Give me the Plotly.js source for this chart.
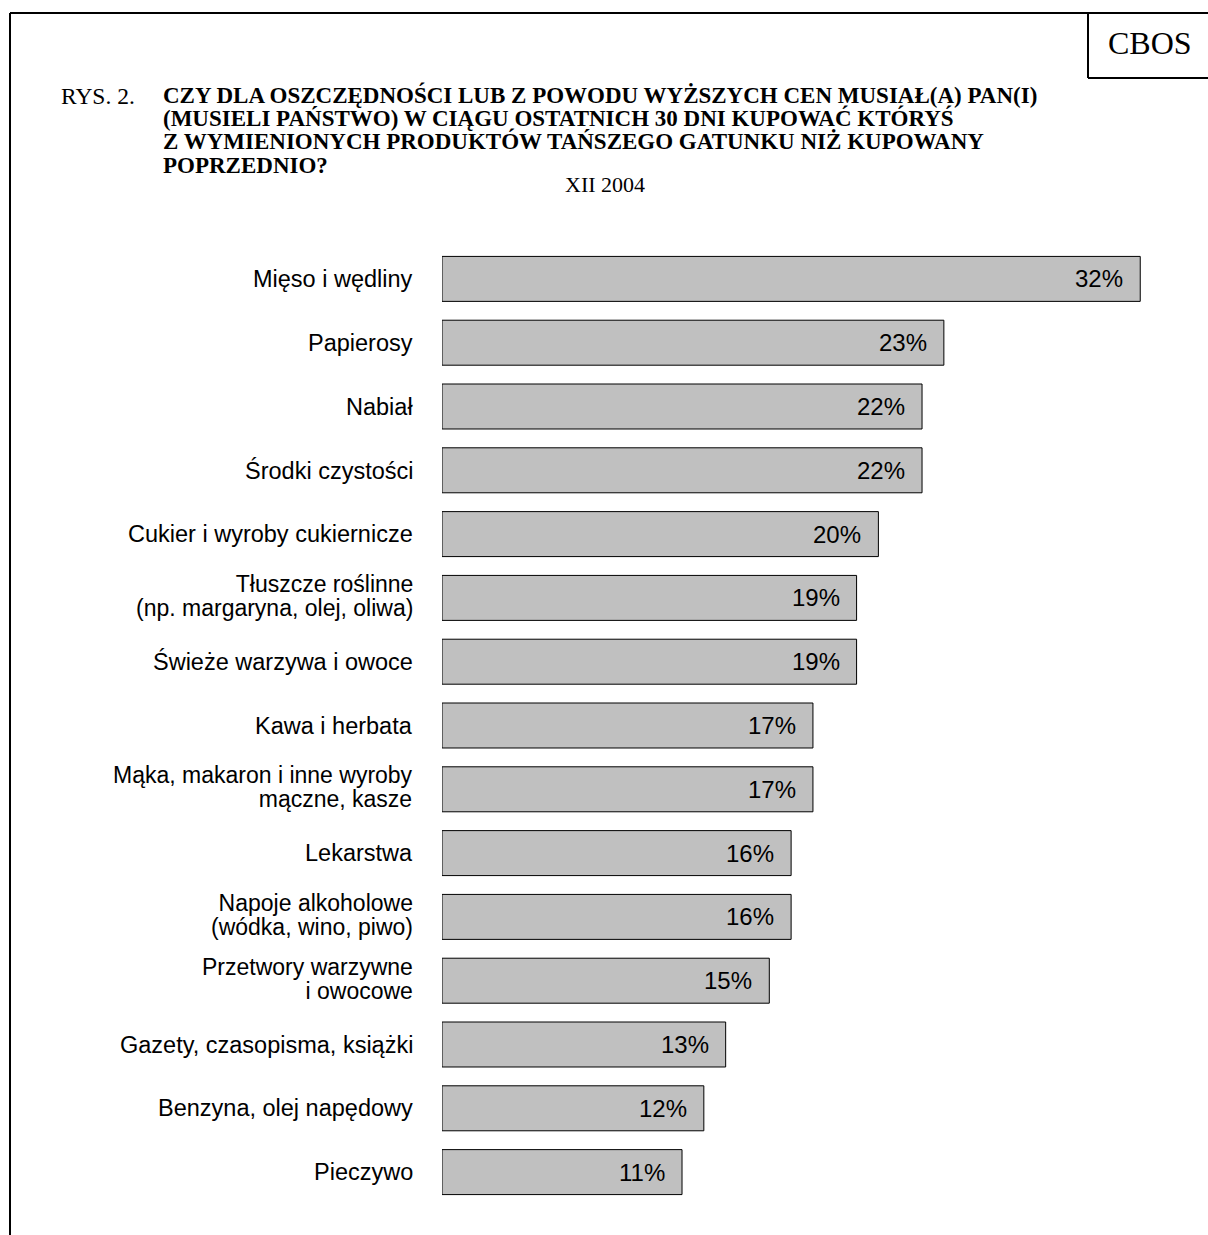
<!DOCTYPE html>
<html>
<head>
<meta charset="utf-8">
<script src="https://cdn.plot.ly/plotly-3.0.1.min.js"></script>
<style>html,body{margin:0;padding:0;background:#fff;}#chart{width:1208px;height:1235px;}</style>
</head>
<body>
<div id="chart"></div>
<script>
// ---- data ----
var categories = [
  "Mięso i wędliny",
  "Papierosy",
  "Nabiał",
  "Środki czystości",
  "Cukier i wyroby cukiernicze",
  "Tłuszcze roślinne\n(np. margaryna, olej, oliwa)",
  "Świeże warzywa i owoce",
  "Kawa i herbata",
  "Mąka, makaron i inne wyroby\nmączne, kasze",
  "Lekarstwa",
  "Napoje alkoholowe\n(wódka, wino, piwo)",
  "Przetwory warzywne\ni owocowe",
  "Gazety, czasopisma, książki",
  "Benzyna, olej napędowy",
  "Pieczywo"
];
var values = [32, 23, 22, 22, 20, 19, 19, 17, 17, 16, 16, 15, 13, 12, 11];
var valueLabels = values.map(function(v){ return v + "%"; });
var titleLines = [
  "CZY DLA OSZCZĘDNOŚCI LUB Z POWODU WYŻSZYCH CEN MUSIAŁ(A) PAN(I)",
  "(MUSIELI PAŃSTWO) W CIĄGU OSTATNICH 30 DNI KUPOWAĆ KTÓRYŚ",
  "Z WYMIENIONYCH PRODUKTÓW TAŃSZEGO GATUNKU NIŻ KUPOWANY",
  "POPRZEDNIO?"
];
var figureLabel = "RYS. 2.";
var periodLabel = "XII 2004";
var sourceLabel = "CBOS";

// ---- layout geometry ----
var W = 1208, H = 1235;
var mL = 442, mR = 0, mT = 247, mB = 31;
var pw = W - mL - mR, ph = H - mT - mB;
function px(x){ return (x - mL) / pw; }
function py(y){ return (H - mB - y) / ph; }

var sans = "Liberation Sans, Arial, sans-serif";
var serif = "Liberation Serif, Times New Roman, serif";

// multi-line text with tight line spacing: base font sets the <br> spacing (1.3em),
// each line is drawn at the larger glyph size
function tightLines(lines, glyphSize, bold){
  return lines.map(function(l){
    var s = '<span style="font-size:' + glyphSize + 'px">' + l + '</span>';
    return bold ? '<b>' + s + '</b>' : s;
  }).join('<br>');
}

var ycats = categories.map(function(c){ return c.replace("\n", " "); });

var annotations = [];
// category labels
categories.forEach(function(c, i){
  var lines = c.split("\n");
  var multi = lines.length > 1;
  annotations.push({
    xref: "paper", yref: "y", x: 0, y: ycats[i],
    xanchor: "right", yanchor: "middle", xshift: -27, yshift: multi ? 2 : 0,
    align: "right",
    text: multi ? tightLines(lines, 23, false) : lines[0],
    showarrow: false,
    font: {family: sans, size: multi ? 23.5 / 1.3 : 23.5, color: "#000"}
  });
});
// value labels
values.forEach(function(v, i){
  annotations.push({
    xref: "x", yref: "y", x: v, y: ycats[i],
    xanchor: "right", yanchor: "middle", xshift: -15,
    text: valueLabels[i], showarrow: false,
    font: {family: sans, size: 24, color: "#000"}
  });
});
// title block
annotations.push({xref: "paper", yref: "paper", x: px(59), y: py(96),
  xanchor: "left", yanchor: "middle", text: figureLabel, showarrow: false,
  font: {family: serif, size: 23.5, color: "#000"}});
annotations.push({xref: "paper", yref: "paper", x: px(161), y: py(80),
  xanchor: "left", yanchor: "top", align: "left",
  text: tightLines(titleLines, 23, true), showarrow: false,
  font: {family: serif, size: 23.2 / 1.3, color: "#000"}});
annotations.push({xref: "paper", yref: "paper", x: px(605), y: py(185),
  xanchor: "center", yanchor: "middle", text: periodLabel, showarrow: false,
  font: {family: serif, size: 22, color: "#000"}});
annotations.push({xref: "paper", yref: "paper", x: px(1150), y: py(43),
  xanchor: "center", yanchor: "middle", text: sourceLabel, showarrow: false,
  font: {family: serif, size: 32, color: "#000"}});

var lineStyle = {color: "#000", width: 2};
var shapes = [
  {type: "line", xref: "paper", yref: "paper", x0: px(10), x1: px(1210), y0: py(13), y1: py(13), line: lineStyle},
  {type: "line", xref: "paper", yref: "paper", x0: px(10), x1: px(10), y0: py(13), y1: py(1240), line: lineStyle},
  {type: "line", xref: "paper", yref: "paper", x0: px(1088), x1: px(1088), y0: py(13), y1: py(78), line: lineStyle},
  {type: "line", xref: "paper", yref: "paper", x0: px(1088), x1: px(1210), y0: py(78), y1: py(78), line: lineStyle}
];

var trace = {
  type: "bar", orientation: "h",
  x: values, y: ycats,
  marker: {color: "#c0c0c0", line: {color: "#000", width: 1}},
  hoverinfo: "none"
};

var layout = {
  width: W, height: H,
  margin: {l: mL, r: mR, t: mT, b: mB, pad: 0},
  paper_bgcolor: "#fff", plot_bgcolor: "#fff",
  showlegend: false,
  bargap: 0.295,
  xaxis: {range: [0, pw / 21.82], showgrid: false, zeroline: false, showticklabels: false, showline: false, ticks: "", fixedrange: true},
  yaxis: {type: "category", range: [categories.length - 0.5, -0.5], showgrid: false, zeroline: false, showticklabels: false, showline: false, ticks: "", fixedrange: true},
  annotations: annotations,
  shapes: shapes
};

Plotly.newPlot("chart", [trace], layout, {displayModeBar: false, staticPlot: true});
</script>
</body>
</html>
